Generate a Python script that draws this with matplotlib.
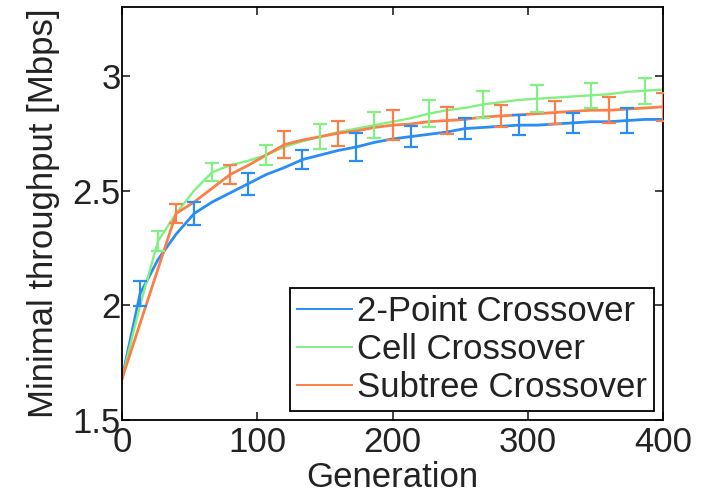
import numpy as np
import matplotlib
matplotlib.use('Agg')
from matplotlib import pyplot as plt

plt.rcParams['font.family'] = ['Liberation Sans', 'DejaVu Sans']

# generations: 31 samples from 0 to 400
generation = np.linspace(0, 400, 31)

two_point = [1.68, 2.05, 2.20, 2.31, 2.40, 2.45, 2.49, 2.53, 2.57, 2.60, 2.635,
             2.655, 2.675, 2.69, 2.71, 2.725, 2.735, 2.745, 2.755, 2.77, 2.775,
             2.78, 2.785, 2.785, 2.79, 2.795, 2.80, 2.80, 2.805, 2.81, 2.81]
cell = [1.68, 2.00, 2.28, 2.40, 2.50, 2.58, 2.61, 2.63, 2.655, 2.69, 2.715,
        2.735, 2.755, 2.77, 2.785, 2.80, 2.815, 2.835, 2.85, 2.86, 2.875,
        2.885, 2.895, 2.90, 2.905, 2.91, 2.915, 2.92, 2.93, 2.935, 2.94]
subtree = [1.68, 1.92, 2.16, 2.40, 2.45, 2.51, 2.57, 2.61, 2.655, 2.70, 2.72,
           2.735, 2.75, 2.76, 2.775, 2.785, 2.79, 2.80, 2.805, 2.81, 2.82,
           2.825, 2.83, 2.835, 2.84, 2.845, 2.85, 2.85, 2.855, 2.86, 2.865]

# error bar half-widths, one per marked point
two_point_err = [0.054, 0.05, 0.048, 0.04, 0.06, 0.047, 0.047, 0.043, 0.045, 0.055]
cell_err = [0.045, 0.038, 0.043, 0.053, 0.058, 0.059, 0.058, 0.058, 0.054, 0.056]
subtree_err = [0.04, 0.043, 0.058, 0.054, 0.064, 0.06, 0.05, 0.05, 0.056, 0.06]

labels = ['2-Point Crossover', 'Cell Crossover', 'Subtree Crossover']
colors = ['#2a8cf5', '#82f082', '#fb7f48']

fig = plt.figure(figsize=(7.04, 4.96), dpi=100)
ax = fig.add_axes([0.1733, 0.1532, 0.7685, 0.8327])

series = [(two_point, two_point_err, 1), (cell, cell_err, 2), (subtree, subtree_err, 3)]
widths = [2.0, 1.7, 2.0]
for (vals, err, start), c, lab, lw in zip(series, colors, labels, widths):
    vals = np.array(vals)
    ax.plot(generation, vals, color=c, lw=lw, label=lab, zorder=2)
    ax.errorbar(generation[start::3], vals[start::3], yerr=err, fmt='none',
                ecolor=c, elinewidth=1.6, capsize=5, capthick=1.6, zorder=3)

ax.set_xlim(0, 400)
ax.set_ylim(1.5, 3.3)
ax.set_xticks([0, 100, 200, 300, 400])
ax.set_yticks([1.5, 2, 2.5, 3])
ax.set_yticklabels(['1.5', '2', '2.5', '3'])
ax.tick_params(direction='in', top=True, right=True, length=6, width=1.2,
               labelsize=25, pad=1, colors='#222222')
ax.tick_params(axis='x', pad=4)
for s in ax.spines.values():
    s.set_linewidth(1.3)

ax.set_xlabel('Generation', fontsize=25, labelpad=2, color='#222222')
ax.set_ylabel('Minimal throughput [Mbps]', fontsize=25, labelpad=9, color='#222222')

leg = ax.legend(loc='lower right', fontsize=25, frameon=True, fancybox=False,
                edgecolor='black', framealpha=1, handlelength=1.6,
                handletextpad=0.15, labelspacing=0.15, borderpad=0.2,
                borderaxespad=0.25)
leg.get_frame().set_linewidth(1.3)
for t in leg.get_texts():
    t.set_color('#222222')
for h in leg.get_lines():
    h.set_linewidth(1.4)

fig.savefig('out.png', dpi=100)
